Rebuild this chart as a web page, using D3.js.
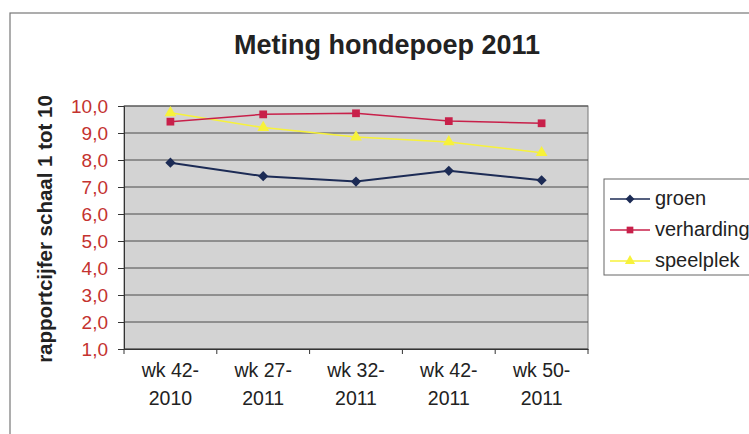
<!DOCTYPE html>
<html>
<head>
<meta charset="utf-8">
<script src="https://cdn.jsdelivr.net/npm/d3@7"></script>
<style>
  body { margin: 0; background: #fff; }
  text { font-family: "Liberation Sans", Arial, sans-serif; }
</style>
</head>
<body>
<div class="chart"></div>
<script>
// data
const weeks = [["wk 42-", "2010"], ["wk 27-", "2011"], ["wk 32-", "2011"], ["wk 42-", "2011"], ["wk 50-", "2011"]];
const groen = [7.9, 7.4, 7.2, 7.6, 7.25];
const verharding = [9.42, 9.69, 9.73, 9.44, 9.36];
const speelplek = [9.75, 9.2, 8.85, 8.67, 8.27];
const seriesNames = ["groen", "verharding", "speelplek"];
const yTicks = [1, 2, 3, 4, 5, 6, 7, 8, 9, 10];

const width = 749, height = 434;
const margin = {left: 124, top: 106, right: 588, bottom: 349};

const svg = d3.select(".chart").append("svg")
    .attr("width", width)
    .attr("height", height);

// outer chart frame
svg.append("rect")
    .attr("x", 10).attr("y", 13)
    .attr("width", 800).attr("height", 500)
    .attr("fill", "#fff")
    .attr("stroke", "#777")
    .attr("stroke-width", 1.2);

const x = d3.scaleBand()
    .domain(d3.range(weeks.length))
    .range([margin.left, margin.right]);

const y = d3.scaleLinear()
    .domain([1, 10])
    .range([margin.bottom, margin.top]);

// plot area
svg.append("rect")
    .attr("x", margin.left).attr("y", margin.top)
    .attr("width", margin.right - margin.left)
    .attr("height", margin.bottom - margin.top)
    .attr("fill", "#d3d3d3")
    .attr("stroke", "#777");

// gridlines
svg.append("g")
    .selectAll("line")
    .data(yTicks)
    .join("line")
    .attr("x1", margin.left).attr("x2", margin.right)
    .attr("y1", d => y(d)).attr("y2", d => y(d))
    .attr("stroke", "#4a4a4a")
    .attr("stroke-width", 1);

// y axis
const yAxis = svg.append("g")
    .attr("transform", `translate(${margin.left},0)`)
    .call(d3.axisLeft(y).tickValues(yTicks).tickSize(6).tickPadding(10)
        .tickFormat(d => d3.format(".1f")(d).replace(".", ",")));
yAxis.select(".domain").attr("stroke", "#333");
yAxis.selectAll(".tick line").attr("stroke", "#333");
yAxis.selectAll("text")
    .attr("fill", "#c4322f")
    .style("font-size", "19px")
    .style("font-family", "Liberation Sans, Arial, sans-serif");

// x axis
const xAxis = svg.append("g")
    .attr("transform", `translate(0,${margin.bottom})`)
    .call(d3.axisBottom(x).tickSize(0).tickFormat(""));
xAxis.select(".domain").attr("stroke", "#333");
xAxis.selectAll(".tick").remove();
svg.append("g")
    .selectAll("line")
    .data(d3.range(weeks.length + 1))
    .join("line")
    .attr("x1", i => margin.left + i * x.step())
    .attr("x2", i => margin.left + i * x.step())
    .attr("y1", margin.bottom).attr("y2", margin.bottom + 5)
    .attr("stroke", "#333");

const xLabels = svg.append("g")
    .selectAll("text")
    .data(weeks)
    .join("text")
    .attr("x", (d, i) => x(i) + x.bandwidth() / 2)
    .attr("y", 377)
    .attr("text-anchor", "middle")
    .attr("fill", "#222")
    .style("font-size", "19.5px");
xLabels.append("tspan").text(d => d[0]);
xLabels.append("tspan")
    .attr("x", (d, i) => x(i) + x.bandwidth() / 2)
    .attr("dy", 28)
    .text(d => d[1]);

// title
svg.append("text")
    .attr("x", 387).attr("y", 54)
    .attr("text-anchor", "middle")
    .attr("fill", "#222")
    .style("font-size", "27px")
    .style("font-weight", "bold")
    .text("Meting hondepoep 2011");

// y axis title
svg.append("text")
    .attr("transform", "translate(52,229) rotate(-90)")
    .attr("text-anchor", "middle")
    .attr("fill", "#222")
    .style("font-size", "20.5px")
    .style("font-weight", "bold")
    .text("rapportcijfer schaal 1 tot 10");

// series
const colors = {groen: "#1c2b55", verharding: "#c8204a", speelplek: "#f7f23a"};
const values = {groen, verharding, speelplek};

const line = d3.line()
    .x((d, i) => x(i) + x.bandwidth() / 2)
    .y(d => y(d));

function marker(g, name, size) {
  if (name === "groen") {
    g.append("path").attr("d", d3.symbol(d3.symbolDiamond2, size * 1.1)).attr("fill", colors[name]);
  } else if (name === "verharding") {
    g.append("path").attr("d", d3.symbol(d3.symbolSquare, size)).attr("fill", colors[name]);
  } else {
    g.append("path").attr("d", d3.symbol(d3.symbolTriangle, size)).attr("fill", colors[name]);
  }
}

// draw order: groen, speelplek, verharding
["groen", "speelplek", "verharding"].forEach(name => {
  svg.append("path")
      .datum(values[name])
      .attr("d", line)
      .attr("fill", "none")
      .attr("stroke", colors[name])
      .attr("stroke-width", name === "groen" ? 2 : 1.5);
  svg.append("g")
      .selectAll("g")
      .data(values[name])
      .join("g")
      .attr("transform", (d, i) => `translate(${x(i) + x.bandwidth() / 2},${y(d)})`)
      .each(function() { marker(d3.select(this), name, 60); });
});

// legend
const legend = svg.append("g");
legend.append("rect")
    .attr("x", 604).attr("y", 179)
    .attr("width", 160).attr("height", 96)
    .attr("fill", "#fff")
    .attr("stroke", "#666");

const legendItem = legend.selectAll("g")
    .data(seriesNames)
    .join("g")
    .attr("transform", (d, i) => `translate(0,${199 + i * 31})`);
legendItem.append("line")
    .attr("x1", 610).attr("x2", 650)
    .attr("stroke", d => colors[d])
    .attr("stroke-width", 1.5);
legendItem.append("g")
    .attr("transform", "translate(630,0)")
    .each(function(d) { marker(d3.select(this), d, 45); });
legendItem.append("text")
    .attr("x", 655).attr("y", 6)
    .attr("fill", "#222")
    .style("font-size", "20px")
    .text(d => d);
</script>
</body>
</html>
